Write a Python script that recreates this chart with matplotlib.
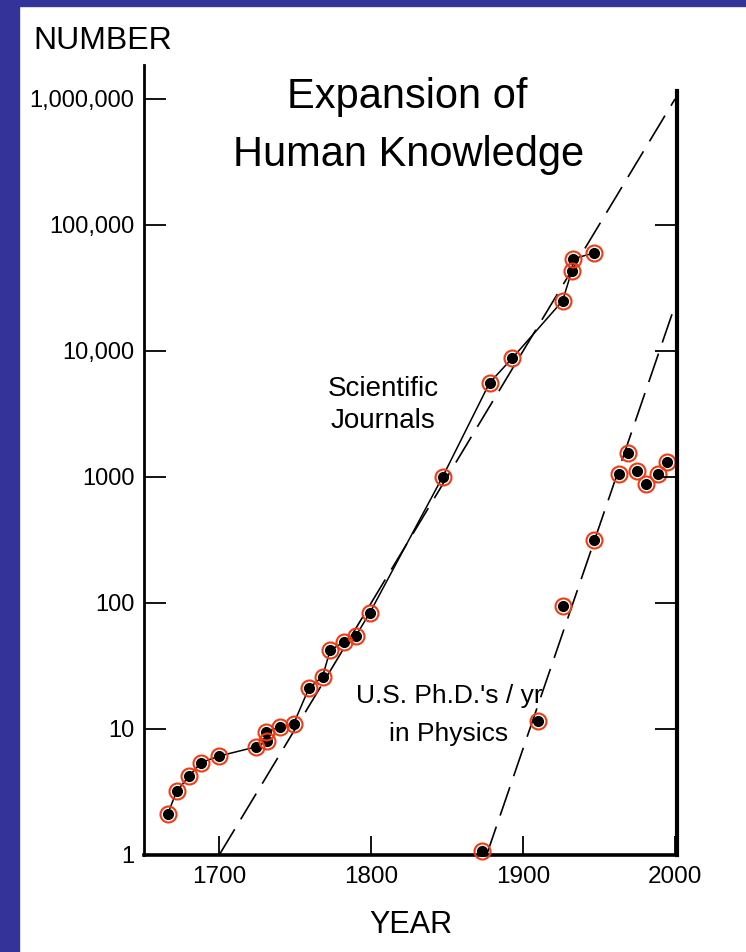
import matplotlib
matplotlib.use("Agg")
import matplotlib.pyplot as plt
from matplotlib.patches import Rectangle

# scientific journals (year, number)
journal_years = [1666, 1672, 1680, 1688, 1700, 1724, 1731.5, 1731, 1740, 1749,
                 1759, 1768, 1773, 1782, 1790, 1799, 1847, 1878, 1893,
                 1926, 1932, 1933, 1947]
journal_counts = [2.1, 3.2, 4.2, 5.4, 6.1, 7.2, 8.0, 9.5, 10.4, 11,
                  21, 26, 42, 49, 55, 83, 1000, 5600, 8800,
                  25000, 43000, 54000, 60000]

# U.S. Ph.D.'s per year in physics
phd_years = [1873, 1910, 1926, 1947, 1963, 1969, 1975, 1981, 1989, 1995]
phd_counts = [1.08, 11.6, 95, 316, 1050, 1550, 1110, 880, 1050, 1320]

# exponential trend lines
journal_fit_years = [1700, 2000]
journal_fit_counts = [1, 1e6]
phd_fit_years = [1876, 2000]
phd_fit_counts = [1, 2.3e4]

ytick_vals = [1, 10, 100, 1000, 10000, 100000, 1000000]
ytick_labels = ["1", "10", "100", "1000", "10,000", "100,000", "1,000,000"]
xtick_vals = [1700, 1800, 1900, 2000]

sans = ["Liberation Sans", "DejaVu Sans"]
red = "#f03c14"

fig = plt.figure(figsize=(7.46, 9.52), dpi=100)

# blue slide border on left and top
fig.patches.append(Rectangle((0, 0), 0.0255, 1, transform=fig.transFigure,
                             color="#333399", zorder=0))
fig.patches.append(Rectangle((0, 1 - 0.0063), 1, 0.0063, transform=fig.transFigure,
                             color="#333399", zorder=0))

ax = fig.add_axes([0.193, 0.1019, 0.7145, 0.8298])
ax.set_yscale("log")
ax.set_xlim(1650.5, 2001.3)
ax.set_ylim(1, 1.86e6)

# dashed trend lines
ax.plot(journal_fit_years, journal_fit_counts, color="black", lw=1.2,
        dashes=(18, 7), clip_on=False)
ax.plot(phd_fit_years, phd_fit_counts, color="black", lw=1.2, dashes=(18, 7))

# journals joined by a solid line
ax.plot(journal_years, journal_counts, color="black", lw=1.1)
ax.plot(journal_years, journal_counts, "o", color="black", ms=7, zorder=3)
ax.plot(journal_years, journal_counts, "o", mfc="none", mec=red, ms=11.5,
        mew=1.5, zorder=4)

# phd points, no line
ax.plot(phd_years, phd_counts, "o", color="black", ms=7, zorder=3, clip_on=False)
ax.plot(phd_years, phd_counts, "o", mfc="none", mec=red, ms=11.5, mew=1.5,
        zorder=4, clip_on=False)

# axes styling
ax.spines["top"].set_visible(False)
ax.spines["right"].set_visible(False)
ax.spines["left"].set_linewidth(2.0)
ax.spines["bottom"].set_linewidth(2.6)

ax.set_yticks(ytick_vals)
ax.set_yticklabels(ytick_labels)
ax.minorticks_off()
ax.set_xticks(xtick_vals)
ax.set_xticklabels([str(x) for x in xtick_vals])
ax.tick_params(axis="y", direction="in", length=16, width=1.3, pad=7,
               labelsize=17)
ax.tick_params(axis="x", direction="in", length=14, width=1.3, pad=8,
               labelsize=17.5)
for lab in ax.get_xticklabels() + ax.get_yticklabels():
    lab.set_family(sans)

# right side: short thick spine with ticks only up to 100,000
ax2 = ax.twinx()
ax2.set_yscale("log")
ax2.set_ylim(ax.get_ylim())
for s in ["top", "left", "bottom"]:
    ax2.spines[s].set_visible(False)
ax2.spines["right"].set_linewidth(3.0)
ax2.spines["right"].set_bounds(1, 1.15e6)
ax2.set_yticks(ytick_vals[:-1])
ax2.minorticks_off()
ax2.tick_params(axis="y", direction="in", length=16, width=1.3,
                labelright=False)

ax.set_xlabel("YEAR", fontsize=22, family=sans, labelpad=16)
fig.text(33 / 746, 1 - 41 / 952, "NUMBER", fontsize=23, family=sans,
         ha="left", va="center")

# title and series labels
fig.text(407 / 746, 1 - 97 / 952, "Expansion of", fontsize=30,
         family=sans, ha="center", va="center")
fig.text(409 / 746, 1 - 155 / 952, "Human Knowledge", fontsize=30,
         family=sans, ha="center", va="center")

fig.text(383 / 746, 1 - 405 / 952, "Scientific\nJournals", fontsize=20,
         family=sans, ha="center", va="center", linespacing=1.25)
fig.text(449 / 746, 1 - 715 / 952, "U.S. Ph.D.'s / yr\nin Physics", fontsize=19,
         family=sans, ha="center", va="center", linespacing=1.7)

plt.savefig("out.png", dpi=100)
